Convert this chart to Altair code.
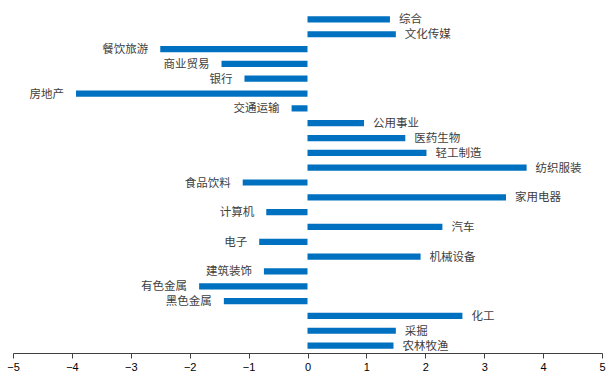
import altair as alt
import pandas as pd

categories = ["综合", "文化传媒", "餐饮旅游", "商业贸易", "银行", "房地产", "交通运输",
              "公用事业", "医药生物", "轻工制造", "纺织服装", "食品饮料", "家用电器",
              "计算机", "汽车", "电子", "机械设备", "建筑装饰", "有色金属", "黑色金属",
              "化工", "采掘", "农林牧渔"]
values = [1.40, 1.50, -2.50, -1.46, -1.07, -3.93, -0.27,
          0.96, 1.66, 2.02, 3.72, -1.10, 3.37,
          -0.70, 2.29, -0.82, 1.92, -0.74, -1.84, -1.42,
          2.63, 1.50, 1.46]
ticks = [-5, -4, -3, -2, -1, 0, 1, 2, 3, 4, 5]

df = pd.DataFrame({"cat": categories, "val": values})

x = alt.X("val:Q",
          scale=alt.Scale(domain=[-5, 5], nice=False, zero=False),
          axis=alt.Axis(values=ticks, format="d", grid=False, title=None,
                        labelFont="Liberation Sans", labelFontSize=11,
                        labelColor="#000000", domainColor="#404040",
                        tickColor="#404040", tickSize=5, labelPadding=3,
                        labelFlush=False))
y = alt.Y("cat:N", sort=categories, axis=None,
          scale=alt.Scale(paddingInner=0.58, paddingOuter=0.29))

bars = alt.Chart(df).mark_bar(color="#0070C0").encode(x=x, y=y, x2=alt.datum(0))

pos = alt.Chart(df).transform_filter("datum.val >= 0").mark_text(
    align="left", baseline="middle", dx=9, dy=1, font="Noto Sans CJK SC",
    fontSize=11.5, color="#404040").encode(x=x, y=y, text="cat:N")
neg = alt.Chart(df).transform_filter("datum.val < 0").mark_text(
    align="right", baseline="middle", dx=-12, dy=1, font="Noto Sans CJK SC",
    fontSize=11.5, color="#404040").encode(x=x, y=y, text="cat:N")

chart = alt.layer(bars, pos, neg).properties(
    width=589, height=341,
    padding={"left": 13, "top": 12, "right": 4, "bottom": 18},
    autosize="none",
    background="#ffffff",
).configure_view(stroke=None)

chart.save("out.html", embed_options={"renderer": "svg", "actions": False})
